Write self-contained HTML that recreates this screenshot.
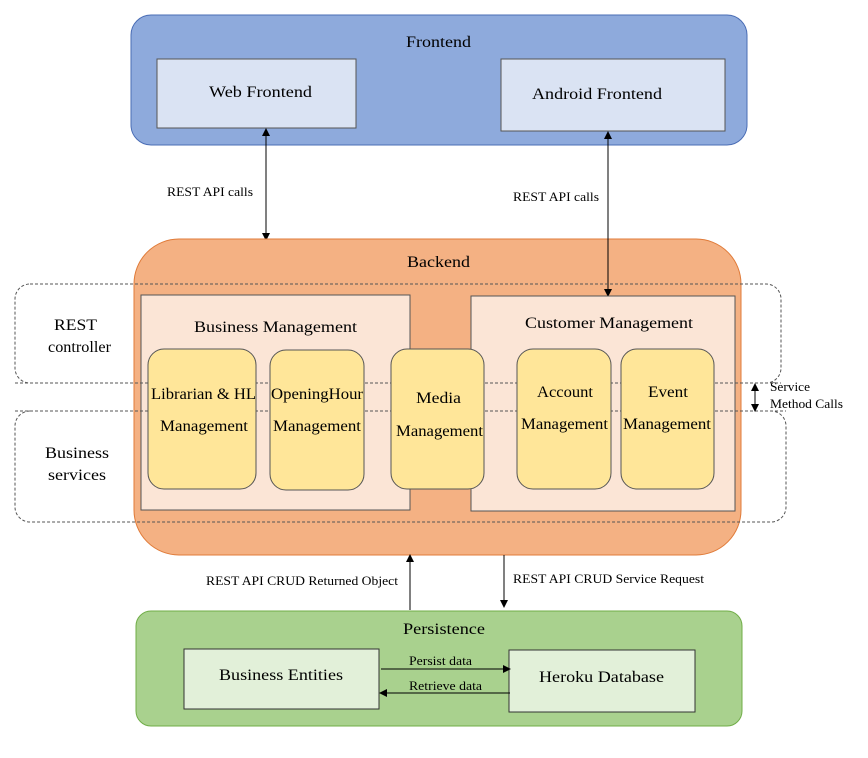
<!DOCTYPE html>
<html><head><meta charset="utf-8"><style>body{margin:0;background:#fff}svg{display:block}text{font-family:"Liberation Serif",serif;fill:#000}</style></head><body>
<svg width="868" height="758" viewBox="0 0 868 758" xmlns="http://www.w3.org/2000/svg">
<defs><marker id="a" markerWidth="8" markerHeight="8" refX="7" refY="4" orient="auto-start-reverse" markerUnits="userSpaceOnUse"><path d="M0,0 L8,4 L0,8 Z" fill="#000"/></marker></defs>
<rect x="131" y="15" width="616" height="130" rx="20" fill="#8eaadc" stroke="#4a6db5"/>
<g font-size="16" lengthAdjust="spacingAndGlyphs">
<text x="406" y="47" textLength="65" lengthAdjust="spacingAndGlyphs">Frontend</text>
</g>
<rect x="157" y="59" width="199" height="69" fill="#dae3f3" stroke="#555"/>
<text x="209" y="97" font-size="16" textLength="103" lengthAdjust="spacingAndGlyphs">Web Frontend</text>
<rect x="501" y="59" width="224" height="72" fill="#dae3f3" stroke="#555"/>
<text x="532" y="99" font-size="16" textLength="130" lengthAdjust="spacingAndGlyphs">Android Frontend</text>
<line x1="266" y1="129" x2="266" y2="240" stroke="#000" marker-start="url(#a)" marker-end="url(#a)"/>
<text x="167" y="196" font-size="13" textLength="86" lengthAdjust="spacingAndGlyphs">REST API calls</text>
<text x="513" y="201" font-size="13" textLength="86" lengthAdjust="spacingAndGlyphs">REST API calls</text>
<rect x="134" y="239" width="607" height="316" rx="45" fill="#f4b183" stroke="#e07b39"/>
<text x="407" y="267" font-size="16" textLength="63" lengthAdjust="spacingAndGlyphs">Backend</text>
<line x1="608" y1="132" x2="608" y2="296" stroke="#000" marker-start="url(#a)" marker-end="url(#a)"/>
<rect x="15" y="284" width="766" height="99" rx="15" fill="none" stroke="#555" stroke-dasharray="3,2"/>
<rect x="15" y="411" width="771" height="111" rx="15" fill="none" stroke="#555" stroke-dasharray="3,2"/>
<g font-size="16">
<text x="54" y="330" textLength="43" lengthAdjust="spacingAndGlyphs">REST</text>
<text x="48" y="352" textLength="63" lengthAdjust="spacingAndGlyphs">controller</text>
<text x="45" y="458" textLength="64" lengthAdjust="spacingAndGlyphs">Business</text>
<text x="48" y="480" textLength="58" lengthAdjust="spacingAndGlyphs">services</text>
</g>
<rect x="141" y="295" width="269" height="215" fill="#fbe5d6" stroke="#555"/>
<text x="194" y="332" font-size="16" textLength="163" lengthAdjust="spacingAndGlyphs">Business Management</text>
<rect x="471" y="296" width="264" height="215" fill="#fbe5d6" stroke="#555"/>
<text x="525" y="328" font-size="16" textLength="168" lengthAdjust="spacingAndGlyphs">Customer Management</text>
<line x1="15" y1="383" x2="781" y2="383" stroke="#555" stroke-dasharray="3,2"/>
<line x1="15" y1="411" x2="786" y2="411" stroke="#555" stroke-dasharray="3,2"/>
<g fill="#ffe699" stroke="#555">
<rect x="148" y="349" width="108" height="140" rx="16"/>
<rect x="270" y="350" width="94" height="140" rx="16"/>
<rect x="391" y="349" width="93" height="140" rx="16"/>
<rect x="517" y="349" width="94" height="140" rx="16"/>
<rect x="621" y="349" width="93" height="140" rx="16"/>
</g>
<g font-size="16">
<text x="151" y="399" textLength="105" lengthAdjust="spacingAndGlyphs">Librarian &amp; HL</text>
<text x="160" y="431" textLength="88" lengthAdjust="spacingAndGlyphs">Management</text>
<text x="271" y="399" textLength="92" lengthAdjust="spacingAndGlyphs">OpeningHour</text>
<text x="273" y="431" textLength="88" lengthAdjust="spacingAndGlyphs">Management</text>
<text x="416" y="403" textLength="45" lengthAdjust="spacingAndGlyphs">Media</text>
<text x="396" y="436" textLength="87" lengthAdjust="spacingAndGlyphs">Management</text>
<text x="537" y="397" textLength="56" lengthAdjust="spacingAndGlyphs">Account</text>
<text x="521" y="429" textLength="87" lengthAdjust="spacingAndGlyphs">Management</text>
<text x="648" y="397" textLength="40" lengthAdjust="spacingAndGlyphs">Event</text>
<text x="623" y="429" textLength="88" lengthAdjust="spacingAndGlyphs">Management</text>
</g>
<line x1="755" y1="384" x2="755" y2="411" stroke="#000" marker-start="url(#a)" marker-end="url(#a)"/>
<text x="770" y="391" font-size="13" textLength="40" lengthAdjust="spacingAndGlyphs">Service</text>
<text x="770" y="408" font-size="13" textLength="73" lengthAdjust="spacingAndGlyphs">Method Calls</text>
<line x1="410" y1="610" x2="410" y2="555" stroke="#000" marker-end="url(#a)"/>
<line x1="504" y1="555" x2="504" y2="607" stroke="#000" marker-end="url(#a)"/>
<text x="206" y="585" font-size="13" textLength="192" lengthAdjust="spacingAndGlyphs">REST API CRUD Returned Object</text>
<text x="513" y="583" font-size="13" textLength="191" lengthAdjust="spacingAndGlyphs">REST API CRUD Service Request</text>
<rect x="136" y="611" width="606" height="115" rx="15" fill="#a9d18e" stroke="#70ad47"/>
<text x="403" y="634" font-size="16" textLength="82" lengthAdjust="spacingAndGlyphs">Persistence</text>
<rect x="184" y="649" width="195" height="60" fill="#e2f0d9" stroke="#333"/>
<text x="219" y="680" font-size="16" textLength="124" lengthAdjust="spacingAndGlyphs">Business Entities</text>
<rect x="509" y="650" width="186" height="62" fill="#e2f0d9" stroke="#333"/>
<text x="539" y="682" font-size="16" textLength="125" lengthAdjust="spacingAndGlyphs">Heroku Database</text>
<line x1="381" y1="669" x2="510" y2="669" stroke="#000" marker-end="url(#a)"/>
<line x1="510" y1="693" x2="380" y2="693" stroke="#000" marker-end="url(#a)"/>
<text x="409" y="665" font-size="13" textLength="63" lengthAdjust="spacingAndGlyphs">Persist data</text>
<text x="409" y="690" font-size="13" textLength="73" lengthAdjust="spacingAndGlyphs">Retrieve data</text>
</svg>
</body></html>
